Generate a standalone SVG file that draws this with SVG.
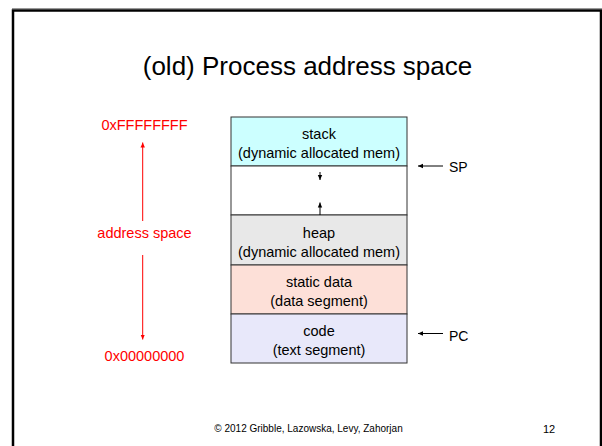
<svg xmlns="http://www.w3.org/2000/svg" width="602" height="446" viewBox="0 0 602 446">
<style>
text{font-family:"Liberation Sans",Arial,sans-serif;}
.t{font-size:14.5px;fill:#000;text-anchor:middle;}
.r{font-size:14.5px;fill:#FF0000;text-anchor:middle;}
.cell{stroke:#333;stroke-width:1;}
.blk{stroke:#000;stroke-width:1;fill:none;}
.red{stroke:#FF0000;stroke-width:1;fill:none;}
</style>
<defs>
<marker id="ab" markerWidth="6" markerHeight="6" refX="5" refY="3" orient="auto" markerUnits="userSpaceOnUse"><path d="M0,0.8 L5,3 L0,5.2 Z" fill="#000"/></marker>
<marker id="ar" markerWidth="6" markerHeight="6" refX="5" refY="3" orient="auto" markerUnits="userSpaceOnUse"><path d="M0,0.8 L5,3 L0,5.2 Z" fill="#FF0000"/></marker>
</defs>
<rect x="0" y="0" width="602" height="446" fill="#fff"/>
<line x1="12" y1="8.5" x2="602" y2="8.5" stroke="#999" stroke-width="1"/>
<rect x="13" y="10.5" width="588" height="450" fill="none" stroke="#000" stroke-width="2.5"/>
<text x="307.5" y="75" style="font-size:26px;text-anchor:middle">(old) Process address space</text>

<g id="stack"><rect class="cell" x="231" y="117" width="176" height="49" fill="#CCFFFF"/>
<text class="t" x="319" y="138.5">stack</text><text class="t" x="319" y="157.5">(dynamic allocated mem)</text></g>
<g id="free"><rect class="cell" x="231" y="166" width="176" height="49" fill="#FFFFFF"/></g>
<g id="heap"><rect class="cell" x="231" y="215" width="176" height="50" fill="#E8E8E8"/>
<text class="t" x="319" y="237.5">heap</text><text class="t" x="319" y="256.5">(dynamic allocated mem)</text></g>
<g id="static"><rect class="cell" x="231" y="265" width="176" height="49" fill="#FDE0D8"/>
<text class="t" x="319" y="287">static data</text><text class="t" x="319" y="306">(data segment)</text></g>
<g id="code"><rect class="cell" x="231" y="314" width="176" height="49" fill="#E8E8FA"/>
<text class="t" x="319" y="336">code</text><text class="t" x="319" y="355">(text segment)</text></g>

<g id="labels">
<text class="r" x="144.5" y="130">0xFFFFFFFF</text>
<text class="r" x="144.5" y="238">address space</text>
<text class="r" x="144.5" y="361">0x00000000</text>
<text x="449" y="172" style="font-size:14px">SP</text>
<text x="449" y="341" style="font-size:14px">PC</text>
</g>

<g id="connectors">
<line class="red" x1="142.7" y1="221" x2="142.7" y2="142.5" marker-end="url(#ar)"/>
<line class="red" x1="142.7" y1="255" x2="142.7" y2="339.5" marker-end="url(#ar)"/>
<line class="blk" x1="320" y1="172" x2="320" y2="180" marker-end="url(#ab)"/>
<line class="blk" x1="320" y1="215" x2="320" y2="202.5" marker-end="url(#ab)"/>
<line class="blk" x1="443" y1="166" x2="418" y2="166" marker-end="url(#ab)"/>
<line class="blk" x1="443" y1="333.5" x2="418" y2="333.5" marker-end="url(#ab)"/>
</g>

<text x="308.5" y="432" style="font-size:10px;text-anchor:middle">© 2012 Gribble, Lazowska, Levy, Zahorjan</text>
<text x="549" y="433" style="font-size:11px;text-anchor:middle">12</text>
</svg>
